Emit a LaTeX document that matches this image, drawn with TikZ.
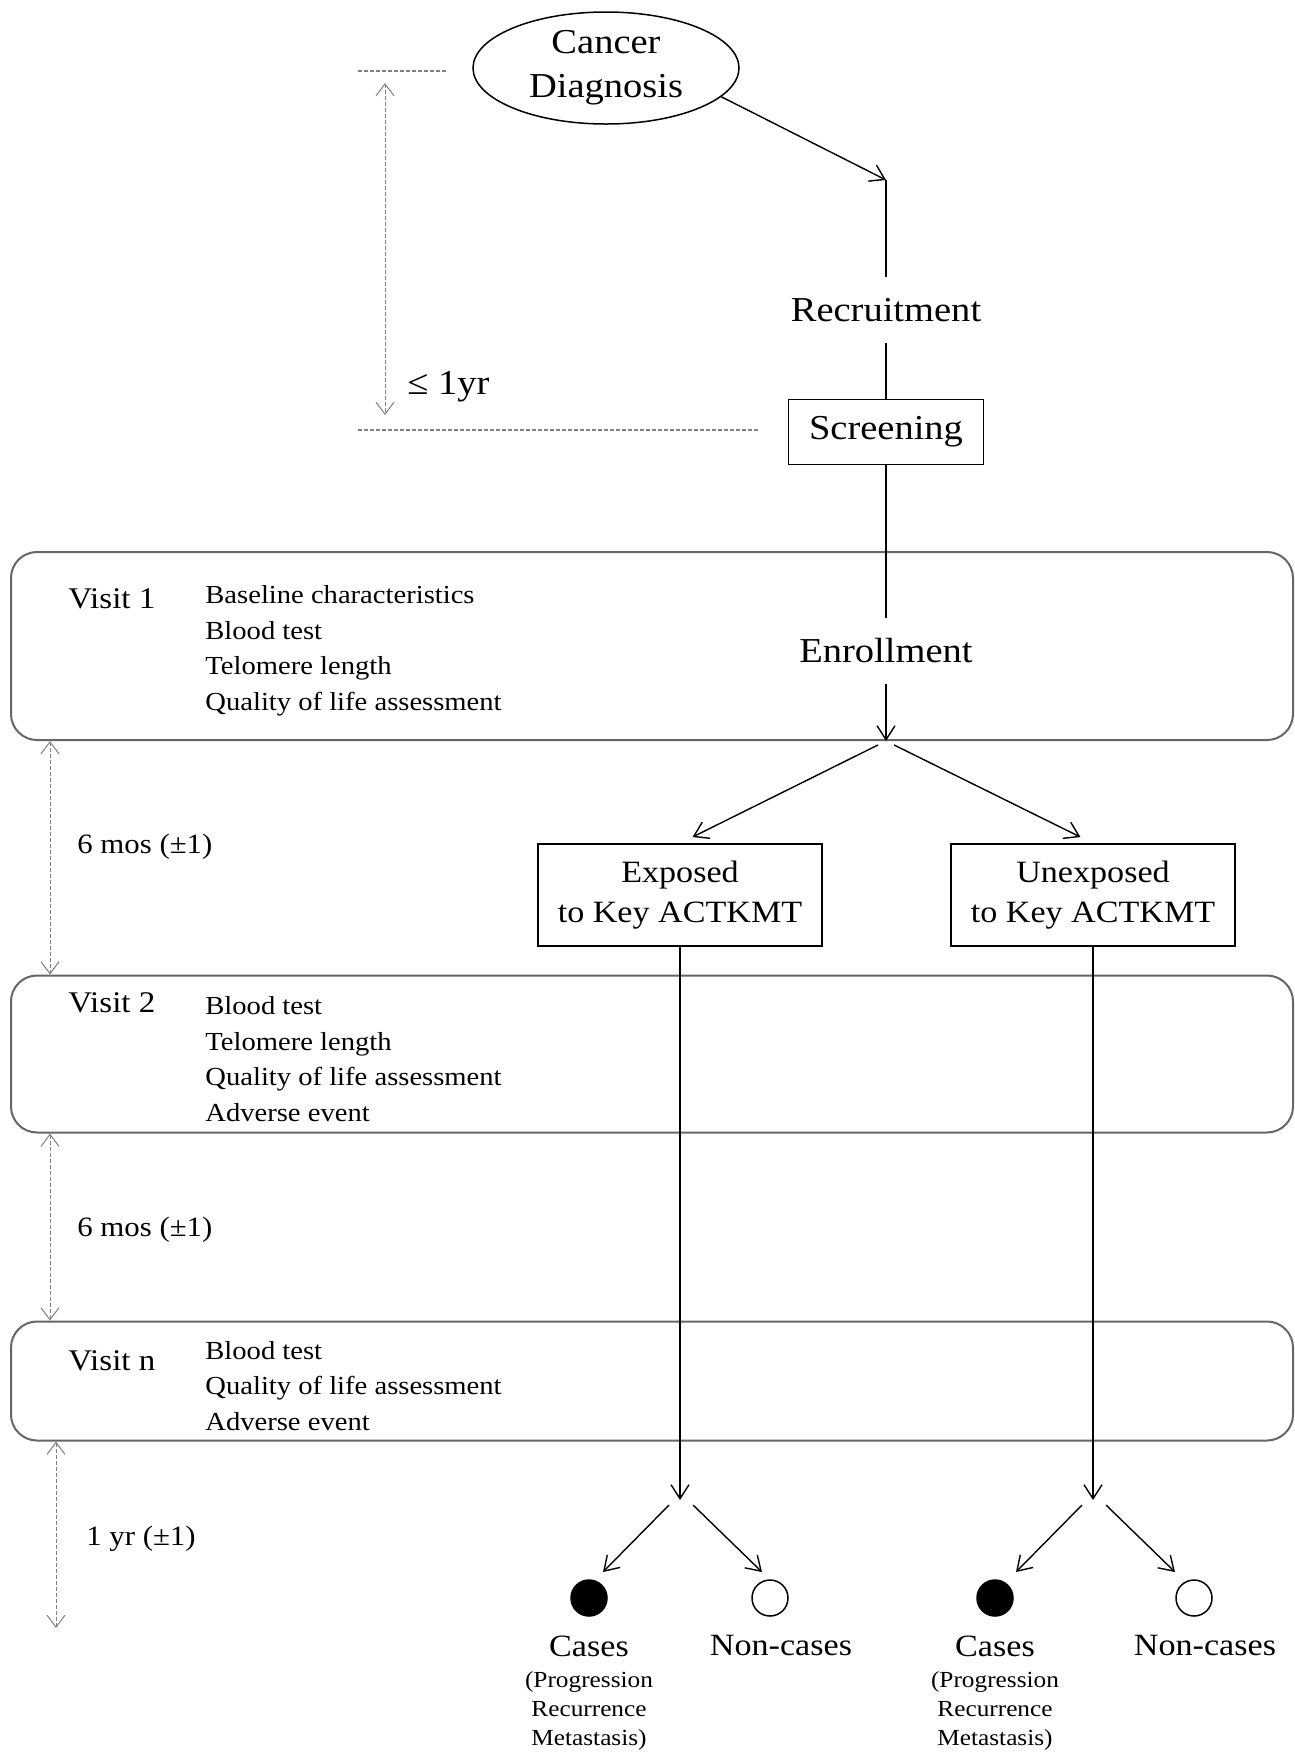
\documentclass[tikz,border=0pt]{standalone}
\usepackage{fontspec}
\setmainfont[FakeStretch=1.1]{Liberation Serif}
\usetikzlibrary{shapes.geometric, arrows.meta}

\begin{document}
\begin{tikzpicture}[x=0.5pt, y=-0.5pt,
		arr/.style={-{Straight Barb[length=7pt, width=9pt]}, line width=0.7pt},
		dim/.style={{Straight Barb[length=6pt, width=9pt]}-{Straight Barb[length=6pt, width=9pt]}, black!50, line width=0.5pt, dash pattern=on 2pt off 1pt},
		guide/.style={black!50, line width=0.6pt, dash pattern=on 2pt off 1pt},
		big/.style={font=\fontsize{17.5}{22}\selectfont},
		mid/.style={font=\fontsize{15.5}{20}\selectfont},
		small/.style={font=\fontsize{11.5}{14.5}\selectfont},
		list/.style={anchor=west, align=left, inner sep=0pt, font=\fontsize{13}{17.75}\selectfont},
		box/.style={draw, line width=0.75pt, inner sep=0pt, align=center},
		dot/.style={circle, draw, line width=0.75pt, minimum size=18pt, inner sep=0pt}]

		\path[use as bounding box, fill=white] (0,0) rectangle (1295,1752);

		% Draw each visit as a rounded bar
		\foreach \name/\cy/\h/\ly/\vis in {
				v1/646/94/599/Visit 1,
				v2/1054/78.5/1003/Visit 2,
				vn/1381/59.5/1361/Visit n
			} {
				\node[draw=black!60, line width=1pt, rounded corners=13pt, minimum width=641pt, minimum height=\h pt] (\name) at (652,\cy) {};
				\node[anchor=west, inner sep=0pt, font=\fontsize{15}{18}\selectfont] (\name lbl) at (68,\ly) {\vis};
			}
		\node[list] (v1list) at (205,651) {Baseline characteristics\\Blood test\\Telomere length\\Quality of life assessment};
		\node[list] (v2list) at (205,1059) {Blood test\\Telomere length\\Quality of life assessment\\Adverse event};
		\node[list] (vnlist) at (205,1386) {Blood test\\Quality of life assessment\\Adverse event};

		% Flow from diagnosis to enrollment
		\node[big, draw, ellipse, line width=0.75pt, minimum width=133pt, minimum height=56pt, inner sep=0pt, align=center] (diag) at (606,68) {Cancer\\Diagnosis};
		\coordinate (bend) at (886,180);
		\node[big, minimum height=32.5pt, inner sep=0pt] (recr) at (886,310) {Recruitment};
		\node[big, box, minimum width=97.5pt, minimum height=32.5pt] (scr) at (886,432) {Screening};
		\node[big, minimum height=32.5pt, inner sep=0pt] (enr) at (886,651) {Enrollment};
		\coordinate (fork) at (enr |- v1.south);

		\draw[arr] (diag.-14) -- (bend);
		\draw[line width=0.7pt] (bend) -- (recr) -- (scr) -- (enr);
		\draw[arr] (enr) -- (fork);

		% Exposure groups
		\node[mid, box, minimum width=142pt, minimum height=51pt] (expo) at (680,895) {Exposed\\to Key ACTKMT};
		\node[mid, box, minimum width=142pt, minimum height=51pt] (unexp) at (1093,895) {Unexposed\\to Key ACTKMT};
		\draw[arr, shorten <=4.5pt, shorten >=7pt] (fork) -- (expo.north);
		\draw[arr, shorten <=4.5pt, shorten >=7pt] (fork) -- (unexp.north);

		% Outcomes of each group
		\foreach \grp/\fx/\cx/\nx in {expo/680/589/770, unexp/1093/995/1194} {
				\coordinate (\grp fork) at (\fx,1500);
				\node[dot, fill=black] (\grp cas) at (\cx,1598) {};
				\node[dot] (\grp non) at (\nx,1598) {};
				\node[mid] (\grp caslbl) at (\cx,1646) {Cases};
				\node[mid] (\grp nonlbl) at (\nx+11,1645) {Non-cases};
				\draw[arr] (\grp) -- (\grp fork);
				\draw[arr] ([shift={(-11,5)}]\grp fork) -- ([shift={(-77,72)}]\grp fork);
				\draw[arr] ([shift={(13,5)}]\grp fork) -- ([shift={(82,72)}]\grp fork);
			}
		\node[small, align=center] (expowhy) at (589,1711) {(Progression\\Recurrence\\Metastasis)};
		\node[small, align=center] (unexpwhy) at (995,1711) {(Progression\\Recurrence\\Metastasis)};

		% Time spans on the left
		\coordinate (gtop) at (358,71);
		\coordinate (gbot) at (358,430);
		\draw[guide] (gtop) -- ++(89,0);
		\draw[guide] (gbot) -- ++(401,0);
		\draw[dim] ([shift={(27,12)}]gtop) -- ([shift={(27,-15)}]gbot);
		\node[big, anchor=west, inner sep=0pt] (lag) at (407,387) {≤ 1yr};

		\coordinate (rail) at (50,0);
		\coordinate (tail) at (56,1628);
		\draw[dim] (v1.south -| rail) -- (v2.north -| rail);
		\draw[dim] (v2.south -| rail) -- (vn.north -| rail);
		\draw[dim] (vn.south -| tail) -- (tail);
		\node[anchor=west, inner sep=0pt, font=\fontsize{14}{17}\selectfont] (gap1) at (77,847) {6 mos (±1)};
		\node[anchor=west, inner sep=0pt, font=\fontsize{14}{17}\selectfont] (gap2) at (77,1230) {6 mos (±1)};
		\node[anchor=west, inner sep=0pt, font=\fontsize{14}{17}\selectfont] (gap3) at (86,1539) {1 yr (±1)};

\end{tikzpicture}
\end{document}
